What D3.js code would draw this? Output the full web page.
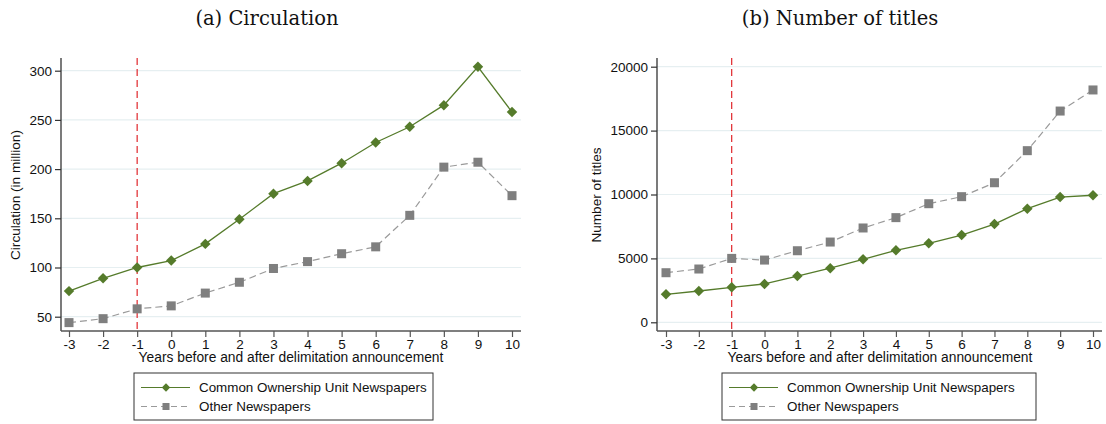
<!DOCTYPE html>
<html>
<head>
<meta charset="utf-8">
<script src="https://cdn.jsdelivr.net/npm/d3@7"></script>
<style>
  html, body { margin: 0; padding: 0; background: #fff; }
  svg { display: block; }
</style>
</head>
<body>
<svg id="chart" width="1106" height="424"></svg>
<script>
// Event-time axis: years relative to the delimitation announcement
const years = [-3, -2, -1, 0, 1, 2, 3, 4, 5, 6, 7, 8, 9, 10];

// Panel (a): circulation, in million
const circCommon = [76, 89, 100, 107, 124, 149, 175, 188, 206, 227, 243, 265, 304, 258];
const circOther  = [44, 48, 58, 61, 74, 85, 99, 106, 114, 121, 153, 202, 207, 173];
const circTicks  = [50, 100, 150, 200, 250, 300];

// Panel (b): number of titles
const titlesCommon = [2190, 2450, 2740, 3000, 3620, 4230, 4930, 5630, 6180, 6830, 7690, 8890, 9800, 9940];
const titlesOther  = [3880, 4170, 5000, 4870, 5600, 6280, 7380, 8190, 9280, 9830, 10920, 13430, 16530, 18180];
const titlesTicks  = [0, 5000, 10000, 15000, 20000];

const announceYear = -1;
const seriesNames = ["Common Ownership Unit Newspapers", "Other Newspapers"];

const GREEN = "#557b2b";
const GREY = "#7f7f7f";
const GREY_LINE = "#9a9a9a";
const GRID = "#e6eff1";
const AXIS = "#333";
const SANS = "'Liberation Sans', Arial, sans-serif";
const SERIF = "'DejaVu Serif', 'Liberation Serif', serif";

// plain hyphen for negatives, as in the printed axis
const fmt = d => String(d);

const svg = d3.select("#chart");

function panel(cfg) {
  const g = svg.append("g");
  const x = d3.scaleLinear().domain([-3, 10]).range([cfg.x0, cfg.x1]);
  const y = d3.scaleLinear().domain(cfg.yDomain).range(cfg.yRange);
  const top = 58, bottom = 331;

  // title
  g.append("text")
    .attr("x", cfg.titleX).attr("y", 25)
    .attr("text-anchor", "middle")
    .attr("font-family", SERIF).attr("font-size", 19.5)
    .attr("fill", "#111")
    .text(cfg.title);

  // horizontal gridlines
  g.selectAll(".grid").data(cfg.ticks).join("line")
    .attr("x1", cfg.axisX).attr("x2", cfg.gridEnd)
    .attr("y1", d => y(d)).attr("y2", d => y(d))
    .attr("stroke", GRID).attr("stroke-width", 1.2);

  // y axis
  const yAxis = d3.axisLeft(y).tickValues(cfg.ticks).tickSize(6).tickPadding(3).tickFormat(fmt);
  const ya = g.append("g").attr("transform", `translate(${cfg.axisX},0)`).call(yAxis);
  ya.select(".domain").remove();
  ya.append("line").attr("x1", 0).attr("x2", 0).attr("y1", top).attr("y2", bottom)
    .attr("stroke", AXIS).attr("stroke-width", 1.3);
  ya.selectAll(".tick line").attr("stroke", AXIS).attr("stroke-width", 1.2);
  ya.selectAll(".tick text").attr("font-family", SANS).attr("font-size", 13.5).attr("fill", "#111");

  // x axis
  const xAxis = d3.axisBottom(x).tickValues(years).tickSize(6).tickPadding(2).tickFormat(fmt);
  const xa = g.append("g").attr("transform", `translate(0,${bottom})`).call(xAxis);
  xa.select(".domain").remove();
  xa.append("line").attr("x1", cfg.axisX).attr("x2", cfg.gridEnd).attr("y1", 0).attr("y2", 0)
    .attr("stroke", "#555").attr("stroke-width", 1.6);
  xa.selectAll(".tick line").attr("stroke", "#555").attr("stroke-width", 1.2);
  xa.selectAll(".tick text").attr("font-family", SANS).attr("font-size", 13.5).attr("fill", "#111");

  // axis titles
  g.append("text")
    .attr("x", cfg.xLabelX).attr("y", 362)
    .attr("text-anchor", "middle")
    .attr("font-family", SANS).attr("font-size", 13.8).attr("fill", "#111")
    .text("Years before and after delimitation announcement");
  g.append("text")
    .attr("transform", `translate(${cfg.yLabelX},${195}) rotate(-90)`)
    .attr("text-anchor", "middle")
    .attr("font-family", SANS).attr("font-size", 13.6).attr("fill", "#111")
    .text(cfg.yLabel);

  // announcement marker
  g.append("line")
    .attr("x1", x(announceYear)).attr("x2", x(announceYear))
    .attr("y1", top).attr("y2", bottom)
    .attr("stroke", "#e0262b").attr("stroke-width", 1.2)
    .attr("stroke-dasharray", "7,4");

  const line = d3.line().x((d, i) => x(years[i])).y(d => y(d));

  // other newspapers: grey dashed, squares
  g.append("path").datum(cfg.other).attr("d", line)
    .attr("fill", "none").attr("stroke", GREY_LINE).attr("stroke-width", 1.2)
    .attr("stroke-dasharray", "7,4");
  g.selectAll(".sq").data(cfg.other).join("rect")
    .attr("x", (d, i) => x(years[i]) - 4.5).attr("y", d => y(d) - 4.5)
    .attr("width", 9).attr("height", 9).attr("fill", GREY);

  // common ownership: green solid, diamonds
  g.append("path").datum(cfg.common).attr("d", line)
    .attr("fill", "none").attr("stroke", GREEN).attr("stroke-width", 1.3);
  g.selectAll(".dm").data(cfg.common).join("path")
    .attr("d", d3.symbol(d3.symbolDiamond2, 70))
    .attr("transform", (d, i) => `translate(${x(years[i])},${y(d)})`)
    .attr("fill", GREEN);

  // legend
  const lg = g.append("g").attr("transform", `translate(${cfg.legX},373)`);
  lg.append("rect").attr("x", 0).attr("y", 0).attr("width", cfg.legW).attr("height", 47)
    .attr("fill", "#fff").attr("stroke", "#333").attr("stroke-width", 1);
  const rows = [
    { name: seriesNames[0], color: GREEN, dash: null, shape: "diamond", yy: 14.5 },
    { name: seriesNames[1], color: GREY_LINE, dash: "6,4", shape: "square", yy: 33.5 }
  ];
  rows.forEach(r => {
    lg.append("line").attr("x1", 7).attr("x2", 56).attr("y1", r.yy).attr("y2", r.yy)
      .attr("stroke", r.color).attr("stroke-width", 1.2)
      .attr("stroke-dasharray", r.dash);
    if (r.shape === "diamond") {
      lg.append("path").attr("d", d3.symbol(d3.symbolDiamond2, 45))
        .attr("transform", `translate(32,${r.yy})`).attr("fill", GREEN);
    } else {
      lg.append("rect").attr("x", 28.5).attr("y", r.yy - 3.5).attr("width", 7).attr("height", 7)
        .attr("fill", GREY);
    }
    lg.append("text").attr("x", 65).attr("y", r.yy).attr("dy", "0.35em")
      .attr("font-family", SANS).attr("font-size", 13.4).attr("fill", "#111")
      .text(r.name);
  });
}

panel({
  title: "(a) Circulation", titleX: 267,
  x0: 69, x1: 512, axisX: 61, gridEnd: 521,
  yDomain: [50, 300], yRange: [316.7, 70.7], ticks: circTicks,
  common: circCommon, other: circOther,
  yLabel: "Circulation (in million)", yLabelX: 20, xLabelX: 291,
  legX: 134, legW: 299
});

panel({
  title: "(b) Number of titles", titleX: 840,
  x0: 666, x1: 1093, axisX: 657, gridEnd: 1102,
  yDomain: [0, 20000], yRange: [322.3, 66.7], ticks: titlesTicks,
  common: titlesCommon, other: titlesOther,
  yLabel: "Number of titles", yLabelX: 601, xLabelX: 880,
  legX: 722, legW: 314
});
</script>
</body>
</html>
